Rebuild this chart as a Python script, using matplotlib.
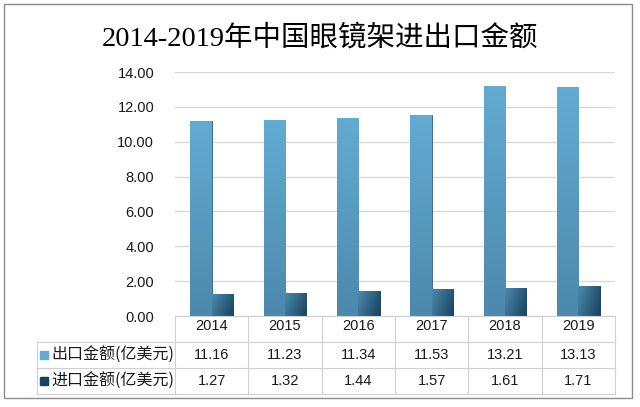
import numpy as np
import matplotlib
matplotlib.use('Agg')
import matplotlib.pyplot as plt
from matplotlib.patches import Rectangle
from matplotlib.colors import to_rgb

years = ['2014', '2015', '2016', '2017', '2018', '2019']
export_vals = [11.16, 11.23, 11.34, 11.53, 13.21, 13.13]
import_vals = [1.27, 1.32, 1.44, 1.57, 1.61, 1.71]
series_names = ['出口金额(亿美元)', '进口金额(亿美元)']
yticks = [0, 2, 4, 6, 8, 10, 12, 14]

plt.rcParams['font.family'] = ['Liberation Sans', 'Noto Sans CJK SC']

W, H = 640, 407
fig = plt.figure(figsize=(W / 100, H / 100), dpi=100)


def fx(px):
    return px / W


def fy(py):
    return 1 - py / H


# outer frame
fig.patches.append(Rectangle((fx(4), fy(398)), fx(632) - fx(4), fy(4) - fy(398),
                             transform=fig.transFigure, fill=False,
                             edgecolor='#8C8C8C', lw=1.0))

fig.text(0.5, fy(38), '2014-2019年中国眼镜架进出口金额', ha='center', va='center',
         fontsize=20.5, family=['Liberation Serif', 'Noto Sans CJK SC'])

left, right = 175, 615
ax = fig.add_axes([fx(left), fy(316), fx(right) - fx(left), fy(72) - fy(316)])
x = np.arange(len(years))
w = 0.29
exp_col = ('#63ABD2', '#4C89AC')
imp_col = ('#4C8AAE', '#18425F')
bars1 = ax.bar(x - w / 2, export_vals, w, color=exp_col[1], edgecolor='#3B6D8E', lw=0.7, zorder=3)
bars2 = ax.bar(x + w / 2, import_vals, w, color=imp_col[1], edgecolor='#1C4864', lw=0.7, zorder=3)


def shade(bar, c_top, c_bot, diag=False):
    # gradient fill clipped to the bar
    x0, y0 = bar.get_x(), bar.get_y()
    bw, bh = bar.get_width(), bar.get_height()
    t = np.linspace(0, 1, 64)
    if diag:
        g = (t[None, :] * 0.7 + t[:, None] * 0.3)
    else:
        g = np.tile(t[:, None], (1, 8))
    c1, c2 = np.array(to_rgb(c_top)), np.array(to_rgb(c_bot))
    img = (1 - g)[..., None] * c1 + g[..., None] * c2
    im = ax.imshow(img, extent=(x0, x0 + bw, y0, y0 + bh), origin='upper',
                   aspect='auto', zorder=3, interpolation='bilinear')
    im.set_clip_path(bar)


for b in bars1:
    shade(b, *exp_col)
for b in bars2:
    shade(b, *imp_col, diag=True)

ax.set_xlim(-0.5, len(years) - 0.5)
ax.set_ylim(0, 14)
ax.set_yticks(yticks)
ax.set_yticklabels(['%.2f' % v for v in yticks])
ax.set_xticks([])
ax.tick_params(axis='y', length=0, pad=15, labelsize=10.5, labelcolor='#1A1A1A')
ax.grid(axis='y', color='#D9D9D9', lw=1.0, zorder=0)
for s in ax.spines.values():
    s.set_visible(False)

# data table under the chart
tax = fig.add_axes([fx(left), fy(394), fx(right) - fx(left), fy(316) - fy(394)])
tax.set_xlim(-0.5, len(years) - 0.5)
tax.set_ylim(0, 3)
tax.axis('off')
unit = (right - left) / len(years)
xl = -0.5 - (left - 37) / unit
lc = '#D0D0D0'
for i in range(len(years) + 1):
    tax.plot([i - 0.5, i - 0.5], [0, 3], color=lc, lw=0.8, clip_on=False)
tax.plot([-0.5, len(years) - 0.5], [3, 3], color=lc, lw=0.8, clip_on=False)
for yy in [0, 1, 2]:
    tax.plot([xl, len(years) - 0.5], [yy, yy], color=lc, lw=0.8, clip_on=False)
tax.plot([xl, xl], [0, 2], color=lc, lw=0.8, clip_on=False)

for i, yr in enumerate(years):
    tax.text(i, 2.6, yr, ha='center', va='center', fontsize=10.5, color='#1A1A1A')
    tax.text(i, 1.5, '%.2f' % export_vals[i], ha='center', va='center', fontsize=10.5, color='#1A1A1A')
    tax.text(i, 0.5, '%.2f' % import_vals[i], ha='center', va='center', fontsize=10.5, color='#1A1A1A')

for row, name, col in [(1.5, series_names[0], exp_col[0]), (0.5, series_names[1], imp_col[1])]:
    tax.plot([xl + 0.1], [row], marker='s', markersize=5.5, color=col, clip_on=False)
    tax.text(xl + 0.2, row, name, ha='left', va='center', fontsize=11.5,
             family=['Noto Sans CJK SC'], color='#1A1A1A')

fig.savefig('out.png', dpi=100)
